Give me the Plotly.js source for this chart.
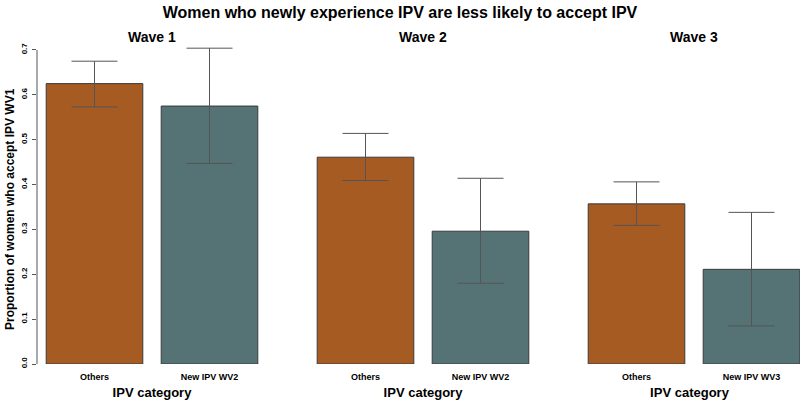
<!DOCTYPE html>
<html>
<head>
<meta charset="utf-8">
<script src="https://cdn.plot.ly/plotly-3.0.1.min.js"></script>
<style>html,body{margin:0;padding:0;background:#fff;}#chart{width:800px;height:400px;}</style>
</head>
<body>
<div id="chart"></div>
<script>
// ---- data ----
const waves = ['Wave 1', 'Wave 2', 'Wave 3'];
const categoryLabels = [
  ['Others', 'New IPV WV2'],
  ['Others', 'New IPV WV2'],
  ['Others', 'New IPV WV3']
];
const othersValues = [0.625, 0.461, 0.357];
const othersUpper  = [0.675, 0.514, 0.406];
const othersLower  = [0.573, 0.409, 0.309];
const newValues    = [0.575, 0.296, 0.211];
const newUpper     = [0.704, 0.414, 0.338];
const newLower     = [0.447, 0.180, 0.085];
const yTicks = [0, 0.1, 0.2, 0.3, 0.4, 0.5, 0.6, 0.7];
const yTickText = ['0.0', '0.1', '0.2', '0.3', '0.4', '0.5', '0.6', '0.7'];
const yTitle = 'Proportion of women who accept IPV WV1';
const xTitle = 'IPV category';

// ---- styles ----
const W = 800, H = 400;
const FONT = 'Liberation Sans, Arial, sans-serif';
const orange = '#a65b22';
const teal = '#557275';
const domains = [[37 / W, 267 / W], [308 / W, 538 / W], [579 / W, 1]];
const ranges = [[-0.5, 1.5], [-0.5, 1.5], [-0.5, (800 - 636.5) / 115]];
const yMax = 0.72;           // head-room so the tallest whisker is not clipped
const pxPerUnit = 448.6;
const plotTop = 364 - yMax * pxPerUnit;
const plotH = 364 - plotTop;

const traces = [];
const layout = {
  width: W, height: H,
  margin: {l: 0, r: 0, t: plotTop, b: H - 364},
  paper_bgcolor: '#fff', plot_bgcolor: '#fff',
  showlegend: false,
  font: {family: FONT, color: '#000'},
  title: {
    text: 'Women who newly experience IPV are less likely to accept IPV',
    font: {family: FONT, size: 16, weight: 'bold', color: '#000'},
    x: 0.5, xanchor: 'center', y: 1 - 12 / H, yanchor: 'middle'
  },
  annotations: [{
    text: yTitle, xref: 'paper', yref: 'paper', x: 10 / W, y: 1 - (209 - plotTop) / plotH,
    xanchor: 'center', yanchor: 'middle', textangle: -90, showarrow: false,
    font: {family: FONT, size: 12, weight: 'bold', color: '#000'}
  }],
  shapes: [{
    type: 'line', xref: 'x domain', yref: 'y', x0: 0, x1: 0, y0: 0, y1: 0.7,
    line: {color: '#555', width: 1}
  }]
};

waves.forEach((w, i) => {
  const xa = i === 0 ? 'x' : 'x' + (i + 1);
  const ya = i === 0 ? 'y' : 'y' + (i + 1);
  const colors = [orange, teal];
  const vals = [othersValues[i], newValues[i]];
  const up = [othersUpper[i] - othersValues[i], newUpper[i] - newValues[i]];
  const lo = [othersValues[i] - othersLower[i], newValues[i] - newLower[i]];
  traces.push({
    type: 'bar', x: [0, 1], y: vals, width: [0.84, 0.84],
    xaxis: xa, yaxis: ya, cliponaxis: false,
    marker: {color: colors, line: {color: '#3a3a3a', width: 1}},
    error_y: {type: 'data', symmetric: false, array: up, arrayminus: lo,
              color: '#555', thickness: 1, width: 23},
    hoverinfo: 'skip'
  });
  const xkey = i === 0 ? 'xaxis' : 'xaxis' + (i + 1);
  const ykey = i === 0 ? 'yaxis' : 'yaxis' + (i + 1);
  layout[xkey] = {
    domain: domains[i], range: ranges[i], anchor: ya,
    tickvals: [0, 1], ticktext: categoryLabels[i],
    tickfont: {family: FONT, size: 9, weight: 'bold', color: '#000'},
    ticklabelstandoff: 6,
    showline: false, showgrid: false, zeroline: false, ticks: '',
    fixedrange: true,
    title: {text: xTitle, font: {family: FONT, size: 13, weight: 'bold', color: '#000'}, standoff: 12}
  };
  layout[ykey] = {
    domain: [0, 1], range: [0, yMax], anchor: xa,
    showgrid: false, zeroline: false, fixedrange: true,
    visible: i === 0,
    showline: false,
    ticks: i === 0 ? 'outside' : '', ticklen: 4, tickcolor: '#555',
    tickvals: yTicks, ticktext: yTickText, tickangle: -90,
    tickfont: {family: FONT, size: 8, weight: 'bold', color: '#000'},
    ticklabelstandoff: 2,
    showticklabels: i === 0,
    title: {text: ''}
  };
  const centerPx = i === 2 ? (636.5 + 751.5) / 2 : (domains[i][0] + domains[i][1]) / 2 * W;
  layout.annotations.push({
    text: w, xref: 'paper', yref: 'paper', x: centerPx / W, y: 1 + (plotTop - 37) / plotH,
    xanchor: 'center', yanchor: 'middle', showarrow: false,
    font: {family: FONT, size: 14, weight: 'bold', color: '#000'}
  });
});

Plotly.newPlot('chart', traces, layout, {displayModeBar: false, staticPlot: true});
</script>
</body>
</html>
